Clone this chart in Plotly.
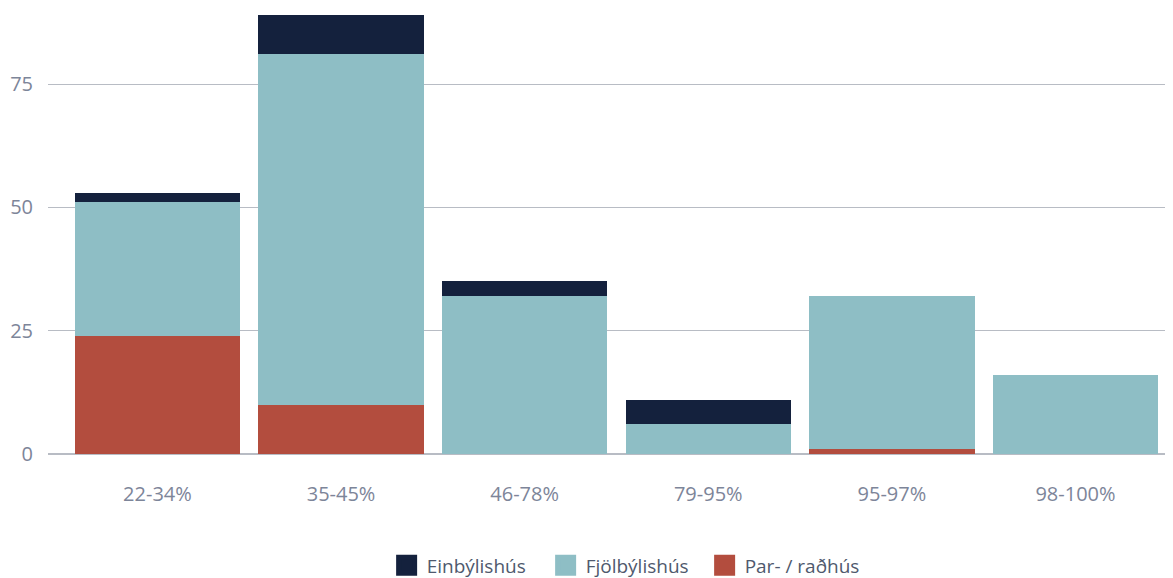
import plotly.graph_objects as go

categories = ["22-34%", "35-45%", "46-78%", "79-95%", "95-97%", "98-100%"]
par_radhus = [24, 10, 0, 0, 1, 0]
fjolbyli = [27, 71, 32, 6, 31, 16]
einbyli = [2, 8, 3, 5, 0, 0]

series = [
    ("Par- / raðhús", par_radhus, "#b34d3e"),
    ("Fjölbýlishús", fjolbyli, "#8ebec5"),
    ("Einbýlishús", einbyli, "#14213d"),
]

fig = go.Figure()
for name, vals, color in series:
    fig.add_trace(go.Bar(x=categories, y=vals, name=name, showlegend=False,
                         marker=dict(color=color, line=dict(width=0))))
# legend entries with larger square swatches
for name, vals, color in series:
    fig.add_trace(go.Scatter(x=[None], y=[None], mode="markers", name=name,
                             marker=dict(symbol="square", size=16, color=color,
                                         line=dict(color=color, width=5))))

fig.update_layout(
    barmode="stack",
    bargap=0.1,
    width=1165, height=570,
    margin=dict(l=40, r=0, t=2, b=124, autoexpand=False),
    paper_bgcolor="white", plot_bgcolor="white",
    font=dict(family="Open Sans", size=20, color="#7d8599"),
    xaxis=dict(range=[-0.596, 5.531], showgrid=False, ticklabelstandoff=26,
               showline=False, zeroline=False, automargin=False),
    yaxis=dict(range=[0, 90], tickvals=[0, 25, 50, 75], showgrid=True,
               gridcolor="#b8bcc4", gridwidth=1, zeroline=True,
               zerolinecolor="#b8bcc4", zerolinewidth=1.5, ticklabelstandoff=14,
               automargin=False),
    legend=dict(orientation="h", x=0.513, xanchor="center", y=-0.208, yanchor="top",
                entrywidth=114, traceorder="reversed",
                font=dict(size=19, color="#4f596d")),
    showlegend=True,
)

fig.write_html("out.html")
